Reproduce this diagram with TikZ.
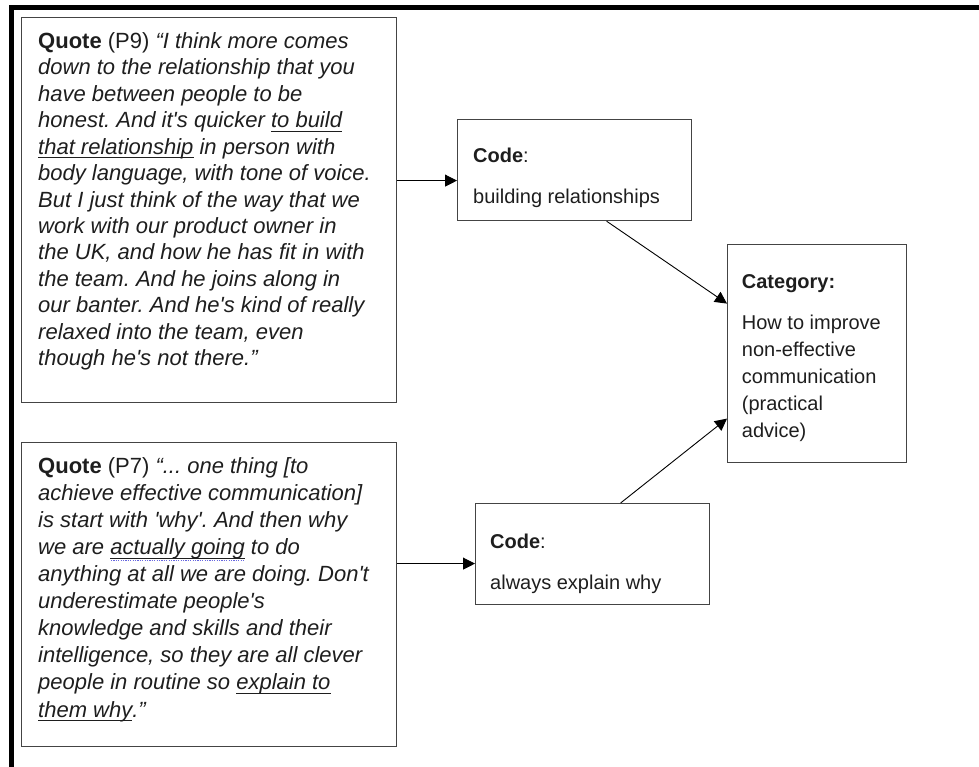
\documentclass[tikz,border=0pt]{standalone}
\usepackage{fontspec}
\newfontfamily\arialfont{Liberation Sans}
\usetikzlibrary{arrows.meta}
\frenchspacing

\definecolor{boxgray}{HTML}{444444}
\definecolor{inkgray}{HTML}{1E1E1E}
\definecolor{spellblue}{HTML}{6868E0}

\newcommand\ulq[1]{\setbox0\hbox{#1}\rlap{\color{inkgray}\rule[-4pt]{\wd0}{0.9pt}}\box0\relax}
\newcommand\ulqdot[1]{\setbox0\hbox{#1}\rlap{\color{inkgray}\rule[-4pt]{\wd0}{0.9pt}}\rlap{\color{spellblue}\raisebox{-6.5pt}{\leaders\hbox to 2.4pt{\hss\rule{1.2pt}{0.8pt}\hss}\hskip\wd0}}\box0\relax}

\tikzset{
  box/.style={draw=boxgray, line width=1.2pt, inner sep=0pt, anchor=north west},
  quotetext/.style={anchor=base west, align=left, inner sep=0pt, text=inkgray, font=\arialfont\fontsize{22}{26.45}\selectfont\itshape},
  codetext/.style={anchor=base west, align=left, inner sep=0pt, text=inkgray, font=\arialfont\fontsize{20}{27}\selectfont},
  arr/.style={-{Triangle[length=12pt,width=12pt]}, line width=0.9pt}
}

\begin{document}
\begin{tikzpicture}[x=1pt, y=-1pt]
    \useasboundingbox (0,0) rectangle (979,767);
    \draw[line width=4.5pt] (979,7.6) -- (11.3,7.6) -- (11.3,767);

    \node[box, minimum width=375pt, minimum height=385pt] (quoteA) at (21,17) {};
    \node[box, minimum width=375pt, minimum height=304pt] (quoteB) at (21,442) {};
    \node[box, minimum width=234pt, minimum height=101pt] (codeA) at (457,119) {};
    \node[box, minimum width=234pt, minimum height=101pt] (codeB) at (475,503) {};
    \node[box, minimum width=179pt, minimum height=218pt] (cat) at (727,244) {};

    % base anchor sits on the last line
    \node[quotetext] (quoteAtext) at (38,365.7) {{\upshape\textbf{Quote} (P9)} “I think more comes\\
        down to the relationship that you\\
        have between people to be\\
        honest. And it's quicker \ulq{to build}\\
        \ulq{that relationship} in person with\\
        body language, with tone of voice.\\
        But I just think of the way that we\\
        work with our product owner in\\
        the UK, and how he has fit in with\\
        the team. And he joins along in\\
        our banter. And he's kind of really\\
        relaxed into the team, even\\
        though he's not there.”};
    \node[quotetext, font=\arialfont\fontsize{22}{27.1}\selectfont\itshape] (quoteBtext) at (38,717) {{\upshape\textbf{Quote} (P7)} “... one thing [to\\
        achieve effective communication]\\
        is start with 'why'. And then why\\
        we are \ulqdot{actually going} to do\\
        anything at all we are doing. Don't\\
        underestimate people's\\
        knowledge and skills and their\\
        intelligence, so they are all clever\\
        people in routine so \ulq{explain to}\\
        \ulq{them why}.”};
    \node[codetext] (codeAtext) at (473,204) {\textbf{Code}:\\[14pt] building relationships};
    \node[codetext] (codeBtext) at (490,589) {\textbf{Code}:\\[14pt] always explain why};
    \node[codetext] (cattext) at (741.7,437.3) {\textbf{Category:}\\[14pt] How to improve\\ non-effective\\ communication\\ (practical\\ advice)};

    \coordinate (codeAin) at ([yshift=-10.5pt]codeA.west);
    \coordinate (codeBin) at ([yshift=-9.5pt]codeB.west);
    \draw[arr] (quoteA.east |- codeAin) -- (codeAin);
    \draw[arr] (quoteB.east |- codeBin) -- (codeBin);
    \draw[arr] ([xshift=32pt]codeA.south) -- ([yshift=50pt]cat.west);
    \draw[arr] ([xshift=28pt]codeB.north) -- ([yshift=-65pt]cat.west);
\end{tikzpicture}
\end{document}
